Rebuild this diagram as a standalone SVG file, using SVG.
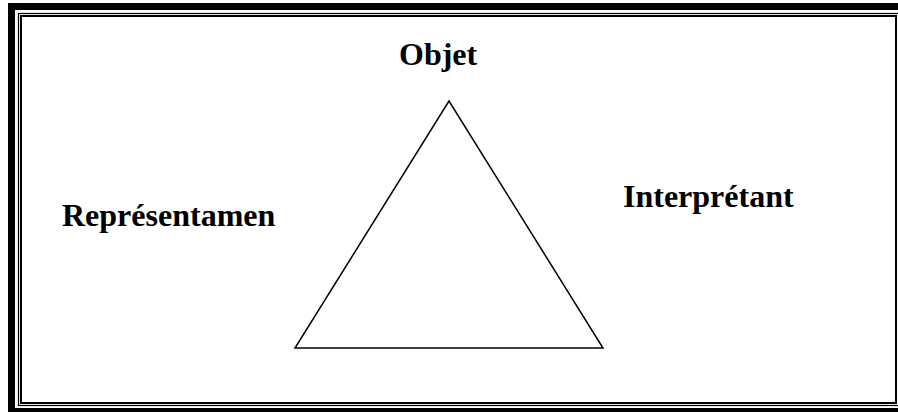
<svg xmlns="http://www.w3.org/2000/svg" width="898" height="412" viewBox="0 0 898 412">
<style>
.lbl{font-family:"Liberation Serif","Times New Roman",serif;font-weight:bold;font-size:32px;fill:#000}
.frame{fill:none;stroke:#000}
</style>
<rect width="898" height="412" fill="#fff"/>
<g id="frame">
<rect class="frame" x="11.5" y="6.5" width="896" height="405" stroke-width="7"/>
<rect class="frame" x="18.5" y="13.5" width="881" height="392" stroke-width="1.2"/>
<rect class="frame" x="21" y="16" width="875" height="387" stroke-width="2"/>
</g>
<g id="connectors">
<polygon points="449,101 295,348 603,348" fill="none" stroke="#000" stroke-width="1.5" stroke-linejoin="miter"/>
</g>
<g id="objet"><text class="lbl" x="399" y="65">Objet</text></g>
<g id="representamen"><text class="lbl" x="62" y="226">Représentamen</text></g>
<g id="interpretant"><text class="lbl" x="623" y="207">Interprétant</text></g>
</svg>
